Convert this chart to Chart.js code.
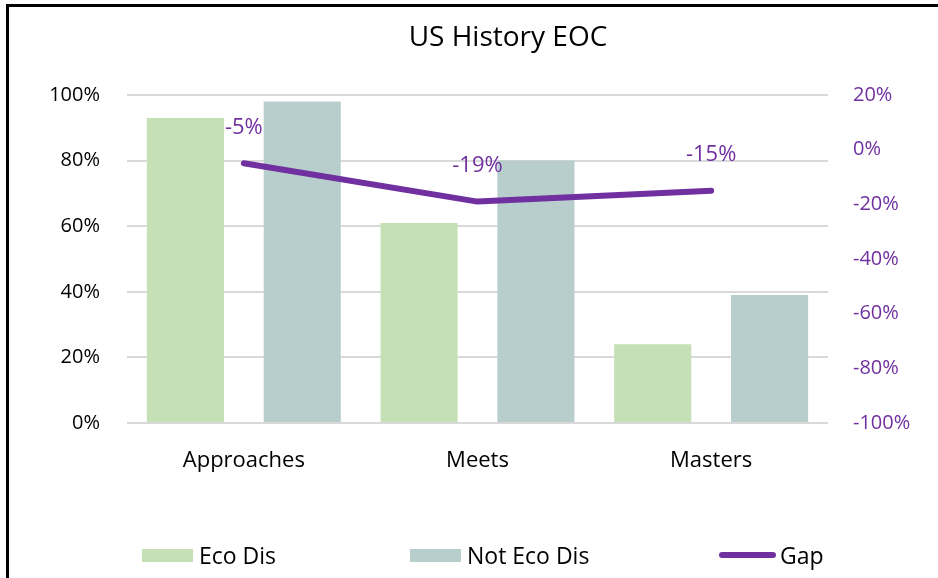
<!DOCTYPE html>
<html lang="en">
<head>
<meta charset="UTF-8">
<title>US History EOC</title>
<style>
html, body {
  margin: 0;
  padding: 0;
  background: #fff;
  overflow: hidden;
}
.frame {
  position: absolute;
  left: 6px;
  top: 4px;
  width: 960px;
  height: 600px;
  border: 3px solid #000;
  box-sizing: border-box;
}
.chart-wrap {
  position: absolute;
  left: 0;
  top: 0;
  width: 938px;
  height: 578px;
}
.chart-title {
  position: absolute;
  top: 16px;
  left: 508px;
  transform: translateX(-50%);
  font: 28px "Open Sans", sans-serif;
  color: #000;
  white-space: nowrap;
}
.legend {
  position: absolute;
  left: 142px;
  top: 539px;
  display: flex;
  align-items: center;
  font: 23px "Open Sans", sans-serif;
  color: #000;
}
.legend-item {
  display: flex;
  align-items: center;
}
.legend-item:nth-child(1) { width: 268px; }
.legend-item:nth-child(2) { width: 309px; }
.legend-swatch {
  width: 51px;
  height: 13px;
  margin-right: 6px;
}
.legend-line {
  width: 57px;
  height: 6px;
  border-radius: 3px;
  margin-right: 4px;
}
</style>
</head>
<body>

<div class="chart-wrap">
  <canvas id="eocChart"></canvas>
</div>
<div class="chart-title">US History EOC</div>
<div class="legend" id="legend"></div>
<div class="frame"></div>

<script src="https://cdn.jsdelivr.net/npm/chart.js"></script>
<script>
// performance levels and percent of students at each level
const categories = ['Approaches', 'Meets', 'Masters'];
const ecoDis = [93, 61, 24];
const notEcoDis = [98, 80, 39];
const gap = [-5, -19, -15];

// axis ranges (percent)
const leftTicks = { min: 0, max: 100, step: 20 };
const rightTicks = { min: -100, max: 20, step: 20 };

const GREEN = '#c5e0b4';
const TEAL = '#b7cecc';
const PURPLE = '#7030a0';
const FONT = '"Open Sans", sans-serif';

// writes the gap value above each point of the line
const gapLabels = {
    id: 'gapLabels',
    afterDatasetsDraw(chart) {
        const ctx = chart.ctx;
        chart.data.datasets.forEach((ds, i) => {
            if (ds.type !== 'line') return;
            const meta = chart.getDatasetMeta(i);
            ctx.save();
            ctx.font = '22px ' + FONT;
            ctx.fillStyle = PURPLE;
            ctx.textAlign = 'center';
            ctx.textBaseline = 'middle';
            meta.data.forEach((pt, j) => {
                ctx.fillText(ds.data[j] + '%', pt.x, pt.y - 36);
            });
            ctx.restore();
        });
    }
};

const chart = new Chart(document.getElementById('eocChart'), {
    type: 'bar',
    data: {
        labels: categories,
        datasets: [
            {
                type: 'line',
                label: 'Gap',
                data: gap,
                yAxisID: 'yGap',
                borderColor: PURPLE,
                backgroundColor: PURPLE,
                borderWidth: 6,
                borderCapStyle: 'round',
                borderJoinStyle: 'round',
                pointRadius: 0,
                tension: 0,
                order: 0
            },
            {
                label: 'Eco Dis',
                data: ecoDis,
                backgroundColor: GREEN,
                yAxisID: 'y',
                order: 1
            },
            {
                label: 'Not Eco Dis',
                data: notEcoDis,
                backgroundColor: TEAL,
                yAxisID: 'y',
                order: 1
            }
        ]
    },
    options: {
        responsive: true,
        maintainAspectRatio: false,
        animation: false,
        layout: {
            padding: { top: 95, bottom: 95, left: 0, right: 0 }
        },
        datasets: {
            bar: { categoryPercentage: 1.0, barPercentage: 0.66 }
        },
        plugins: {
            legend: { display: false },
            title: { display: false },
            tooltip: { enabled: false }
        },
        scales: {
            x: {
                grid: { display: false },
                border: { display: false },
                ticks: {
                    color: '#000',
                    padding: 17,
                    font: { family: FONT, size: 22 }
                },
                afterFit(scale) { scale.height = 60; }
            },
            y: {
                position: 'left',
                min: leftTicks.min,
                max: leftTicks.max,
                grid: { color: '#d9d9d9', lineWidth: 2, drawTicks: false },
                border: { display: false },
                ticks: {
                    stepSize: leftTicks.step,
                    color: '#000',
                    padding: 27,
                    font: { family: FONT, size: 20 },
                    callback: v => v + '%'
                },
                afterFit(scale) { scale.width = 127; }
            },
            yGap: {
                position: 'right',
                min: rightTicks.min,
                max: rightTicks.max,
                grid: { display: false, drawTicks: false },
                border: { display: false },
                ticks: {
                    stepSize: rightTicks.step,
                    color: PURPLE,
                    padding: 25,
                    font: { family: FONT, size: 20 },
                    callback: v => v + '%'
                },
                afterFit(scale) { scale.width = 110; }
            }
        }
    },
    plugins: [gapLabels]
});

// legend built from the datasets: bars first, then the line
function buildLegend() {
    const box = document.getElementById('legend');
    const sets = chart.data.datasets.filter(d => d.type !== 'line')
        .concat(chart.data.datasets.filter(d => d.type === 'line'));
    sets.forEach(ds => {
        const item = document.createElement('div');
        item.className = 'legend-item';
        const mark = document.createElement('span');
        if (ds.type === 'line') {
            mark.className = 'legend-line';
            mark.style.background = ds.borderColor;
        } else {
            mark.className = 'legend-swatch';
            mark.style.background = ds.backgroundColor;
        }
        const text = document.createElement('span');
        text.textContent = ds.label;
        item.appendChild(mark);
        item.appendChild(text);
        box.appendChild(item);
    });
}
buildLegend();
</script>

</body>
</html>
